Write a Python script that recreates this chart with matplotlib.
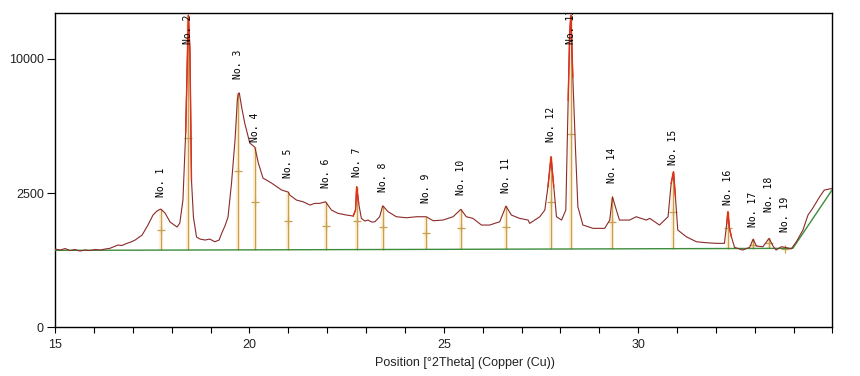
import matplotlib
matplotlib.use("Agg")
import matplotlib.pyplot as plt
import numpy as np

two_theta = [15.00, 15.13, 15.26, 15.39, 15.51, 15.64, 15.77, 15.90, 16.03, 16.16,
             16.29, 16.41, 16.62, 16.72, 16.85, 16.95, 17.06, 17.24, 17.39, 17.52,
             17.62, 17.72, 17.83, 17.96, 18.14, 18.21, 18.29, 18.36, 18.43, 18.47,
             18.51, 18.56, 18.64, 18.73, 18.86, 18.98, 19.11, 19.22, 19.29, 19.37,
             19.45, 19.54, 19.63, 19.69, 19.71, 19.74, 19.80, 19.88, 20.01, 20.14,
             20.23, 20.35, 20.57, 20.83, 21.00, 21.04, 21.21, 21.38, 21.56, 21.68,
             21.81, 21.96, 22.11, 22.28, 22.50, 22.67, 22.73, 22.76, 22.81, 22.88,
             22.97, 23.05, 23.15, 23.23, 23.35, 23.43, 23.57, 23.78, 24.04, 24.30,
             24.55, 24.73, 24.98, 25.24, 25.44, 25.58, 25.75, 25.97, 26.18, 26.44,
             26.60, 26.74, 26.95, 27.17, 27.21, 27.47, 27.60, 27.68, 27.76, 27.83,
             27.90, 28.03, 28.14, 28.20, 28.24, 28.27, 28.32, 28.39, 28.45, 28.58,
             28.84, 29.14, 29.27, 29.34, 29.44, 29.52, 29.78, 29.95, 30.21, 30.30,
             30.55, 30.77, 30.85, 30.91, 30.96, 31.02, 31.24, 31.50, 31.75, 32.01,
             32.22, 32.28, 32.31, 32.35, 32.40, 32.48, 32.69, 32.87, 32.96, 33.04,
             33.21, 33.37, 33.47, 33.55, 33.68, 33.78, 33.94, 34.07, 34.24, 34.37,
             34.49, 34.67, 34.79, 35.00]
counts = [852, 830, 862, 819, 841, 809, 830, 819, 841, 830,
          852, 867, 941, 930, 980, 1010, 1058, 1182, 1452, 1749,
          1876, 1941, 1812, 1538, 1396, 1509, 2247, 5228, 13496, 10643,
          3006, 1687, 1132, 1082, 1058, 1082, 1017, 1058, 1234, 1424,
          1687, 2886, 4858, 7152, 7535, 7619, 6719, 5779, 4704, 4502,
          3740, 3089, 2886, 2613, 2537, 2426, 2247, 2187, 2074, 2132,
          2132, 2187, 1908, 1802, 1749, 1718, 1908, 2740, 2142, 1648,
          1568, 1597, 1538, 1547, 1697, 2050, 1853, 1697, 1666, 1697,
          1697, 1576, 1597, 1697, 1931, 1697, 1648, 1452, 1452, 1547,
          2040, 1749, 1648, 1597, 1500, 1697, 1908, 2740, 4032, 2740,
          1697, 1597, 1908, 7152, 11986, 13496, 8693, 4354, 2017, 1452,
          1360, 1360, 1597, 2364, 1908, 1597, 1597, 1697, 1597, 1648,
          1452, 1697, 2874, 3355, 2364, 1314, 1139, 1017, 994, 980,
          980, 1500, 1853, 1360, 1139, 889, 830, 889, 1082, 918,
          902, 1100, 918, 830, 902, 889, 855, 1017, 1314, 1749,
          1964, 2364, 2613, 2678]

# background line
bg_theta = [15.0, 25.0, 33.98, 35.0]
bg_counts = [823, 845, 867, 2640]

# peak list
peak_no = list(range(1, 20))
peak_pos = [17.72, 18.43, 19.71, 20.14, 21.00, 21.96, 22.76, 23.43, 24.55, 25.44,
            26.60, 27.76, 28.27, 29.34, 30.91, 32.31, 32.96, 33.37, 33.78]
peak_height = [1941, 13496, 7619, 4502, 2537, 2187, 2740, 2050, 1697, 1931,
               2040, 4032, 13496, 2364, 3355, 1853, 1082, 1100, 889]
peak_mark = [1314, 4963, 3385, 2177, 1568, 1424, 1576, 1396, 1234, 1368,
             1396, 2187, 5191, 1547, 1853, 1368, 941, 980, 852]

x_ticks = [15, 20, 25, 30]
y_ticks = [0, 2500, 10000]

two_theta = np.array(two_theta)
counts = np.array(counts, dtype=float)

fig = plt.figure(figsize=(8.6, 3.76), dpi=100)
ax = fig.add_axes([0.064, 0.129, 0.904, 0.836])
ax.set_yscale("function", functions=(lambda v: np.sqrt(np.clip(v, 0, None)), lambda v: v ** 2))

bg = np.interp(peak_pos, bg_theta, bg_counts)

# sticks with pale glow
ax.vlines(peak_pos, bg, peak_height, colors="#fff0d6", lw=3, zorder=1)
ax.vlines(peak_pos, bg, peak_height, colors="#c4a050", lw=0.9, zorder=2)
ax.plot(peak_pos, peak_mark, "+", color="#c4a050", ms=6, mew=0.9, zorder=2)

ax.plot(bg_theta, bg_counts, color="#3c8c3c", lw=1, zorder=3)
ax.plot(two_theta, counts, color="#8b2a2a", lw=0.8, zorder=4)

# fitted tops drawn in red on the strong reflections
near = np.zeros(len(two_theta), dtype=bool)
for p in [18.43, 22.76, 27.76, 28.27, 30.91, 32.31]:
    near |= np.abs(two_theta - p) < 0.09
ax.plot(two_theta, np.ma.masked_where(~near, counts), color="#e0301e", lw=1, zorder=5)

# peak labels (the two strongest are pinned under the top edge)
label_pad = [8.6, 0, 10, 3.6, 10, 9.9, 7.2, 10, 9.9, 10,
             9.4, 10.6, 0, 9.9, 4.8, 4.8, 8.6, 18.7, 10.8]
for n, p, h, pad in zip(peak_no, peak_pos, peak_height, label_pad):
    ax.annotate("No. %d" % n, (p, min(h, 11100)), xytext=(0, pad),
                textcoords="offset points", rotation=90, ha="center", va="bottom",
                fontsize=7, family="DejaVu Sans Mono", color="black",
                annotation_clip=False, clip_on=True, zorder=6)

ax.set_xlim(15, 35)
ax.set_ylim(0, 13670)
ax.set_xticks(x_ticks)
ax.set_xticks(range(15, 36), minor=True)
ax.set_yticks(y_ticks)
ax.set_yticklabels([str(v) for v in y_ticks])
ax.tick_params(axis="x", which="both", direction="out", length=4, width=0.8, pad=4,
               labelsize=9, labelcolor="#222222")
ax.tick_params(axis="y", direction="out", length=6, width=0.8, pad=2,
               labelsize=9, labelcolor="#222222")
for lab in ax.get_xticklabels() + ax.get_yticklabels():
    lab.set_family("Liberation Sans")
for s in ax.spines.values():
    s.set_linewidth(1)

ax.set_xlabel("Position [°2Theta] (Copper (Cu))", fontsize=9, family="Liberation Sans",
              color="#222222")
ax.xaxis.set_label_coords(0.527, -0.095)

fig.savefig("out.png", dpi=100)
